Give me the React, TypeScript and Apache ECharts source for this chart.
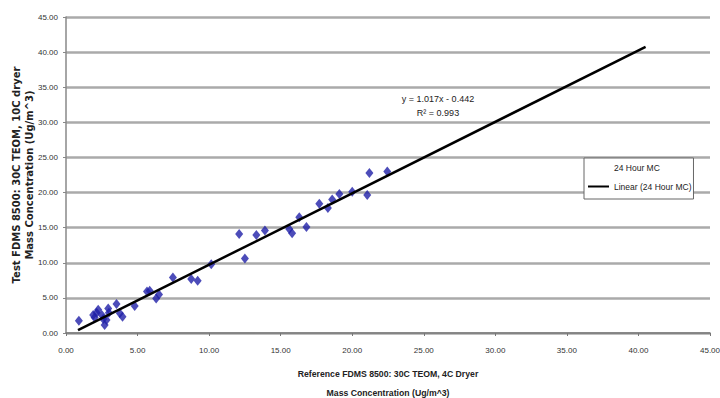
import React, { useEffect, useRef } from "react";
import * as echarts from "echarts";

const refX = [0.9, 1.9, 2.0, 2.14, 2.25, 2.5, 2.6, 2.7, 2.83, 2.95, 3.0, 3.53, 3.76, 3.95, 4.8, 5.66, 5.85, 6.3, 6.5, 7.47, 8.75, 9.2, 10.15, 12.1, 12.5, 13.3, 13.9, 15.6, 15.8, 16.3, 16.8, 17.7, 18.3, 18.6, 19.1, 20.0, 21.05, 21.2, 22.45];
const testY = [1.75, 2.56, 2.2, 2.9, 3.3, 2.56, 2.0, 1.14, 1.85, 3.5, 2.9, 4.13, 2.8, 2.3, 3.85, 5.9, 6.0, 4.9, 5.5, 7.9, 7.7, 7.45, 9.8, 14.1, 10.6, 13.96, 14.6, 14.8, 14.2, 16.5, 15.1, 18.4, 17.8, 19.0, 19.8, 20.1, 19.65, 22.8, 23.0];
const trendX = [0.84, 40.5];
const trendY = [0.41, 40.75];
const equationLines = ["y = 1.017x - 0.442", "R² = 0.993"];
const scatterName = "24 Hour MC";
const trendName = "Linear (24 Hour MC)";
const xTitle = "Reference FDMS 8500: 30C TEOM, 4C Dryer\nMass Concentration (Ug/m^3)";
const yTitle = "Test FDMS 8500: 30C TEOM, 10C dryer\nMass Concentration (Ug/m^3)";

const SANS = "'Liberation Sans', Arial, sans-serif";

export default function App() {
  const ref = useRef<HTMLDivElement>(null);
  useEffect(() => {
    if (!ref.current) return;
    const chart = echarts.init(ref.current, undefined, { renderer: "svg" });
    const axisCommon = {
      type: "value" as const,
      min: 0,
      max: 45,
      interval: 5,
      axisLabel: {
        formatter: (v: number) => v.toFixed(2),
        fontFamily: SANS,
        fontSize: 8,
        color: "#333",
      },
    };
    chart.setOption({
      animation: false,
      backgroundColor: "#fff",
      grid: { left: 66, top: 17, right: 10, bottom: 65, outerBoundsMode: "none", containLabel: false },
      xAxis: {
        ...axisCommon,
        axisLabel: { ...axisCommon.axisLabel, margin: 13 },
        axisLine: { lineStyle: { color: "#777", width: 1.5 } },
        axisTick: { show: true, length: 3, lineStyle: { color: "#777" } },
        splitLine: { show: false },
        name: xTitle,
        nameLocation: "middle",
        nameGap: 31,
        nameMoveOverlap: false,
        nameTextStyle: { fontFamily: SANS, fontWeight: "bold", fontSize: 8.7, color: "#222", lineHeight: 19 },
      },
      yAxis: {
        ...axisCommon,
        axisLabel: { ...axisCommon.axisLabel, margin: 8 },
        axisLine: { show: true, lineStyle: { color: "#888", width: 1.5 } },
        axisTick: { show: true, length: 3, lineStyle: { color: "#888" } },
        splitLine: { show: true, lineStyle: { color: "#aaaaaa", width: 2.5 } },
        name: yTitle,
        nameLocation: "middle",
        nameRotate: 90,
        nameGap: 30,
        nameMoveOverlap: false,
        nameTextStyle: { fontFamily: "'DejaVu Sans', sans-serif", fontWeight: "bold", fontSize: 10, color: "#222", lineHeight: 13 },
      },
      legend: {
        orient: "vertical",
        left: 584,
        top: 158,
        padding: [5, 2, 8, 4],
        itemGap: 10,
        itemWidth: 21,
        itemHeight: 2,
        itemTextGap: 2,
        borderColor: "#666",
        borderWidth: 1,
        backgroundColor: "#fff",
        textStyle: { fontFamily: SANS, fontSize: 8.5, color: "#222" },
        data: [
          { name: scatterName, icon: "none" },
          { name: trendName, icon: "rect" },
        ],
      },
      graphic: equationLines.map((t, i) => ({
        type: "text",
        x: 438,
        y: 99 + i * 14,
        style: {
          text: t,
          fontFamily: SANS,
          fontSize: 9,
          fill: "#222",
          textAlign: "center",
          textVerticalAlign: "middle",
        },
      })),
      series: [
        {
          name: scatterName,
          type: "scatter",
          symbol: "diamond",
          symbolSize: [8, 10],
          itemStyle: { color: "#1f1fa8" },
          data: refX.map((x, i) => [x, testY[i]]),
          z: 3,
        },
        {
          name: trendName,
          type: "line",
          symbol: "none",
          lineStyle: { color: "#000", width: 2.5 },
          itemStyle: { color: "#000" },
          data: trendX.map((x, i) => [x, trendY[i]]),
          z: 4,
        },
      ],
    });
    return () => chart.dispose();
  }, []);
  return <div ref={ref} style={{ width: 720, height: 398, position: "absolute", left: 0, top: 0 }} />;
}
